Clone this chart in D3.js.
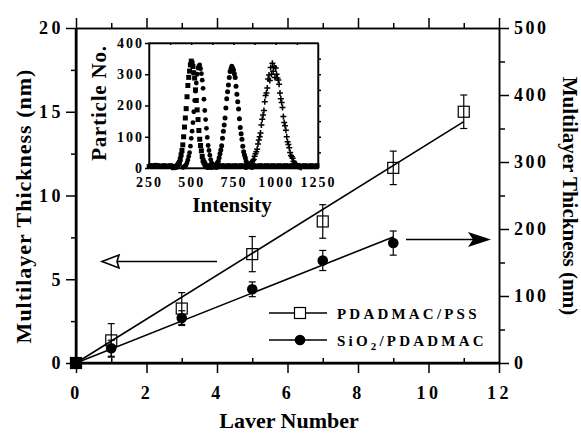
<!DOCTYPE html>
<head>
    <meta charset="utf-8" />
    <title>Multilayer Thickness</title>
</head>

<style>
    body {
        margin: 0;
        background: #fff;
    }

    svg text {
        font-family: "Liberation Serif", "Times New Roman", serif !important;
        font-weight: bold;
        fill: #000;
    }

    .axis path,
    .axis line {
        fill: none;
        stroke: #000;
        stroke-width: 1.5px;
    }
</style>

<body>
    <svg id="chart" width="581" height="434"></svg>

    <script src="https://d3js.org/d3.v7.min.js"></script>

    <script>
        // main plot data (layer number, thickness)
        var layers = [0, 1, 3, 5, 7, 9, 11];
        var pssThick = [0, 1.35, 3.25, 6.5, 8.45, 11.65, 15.0];   // nm, left axis
        var pssErr = [0, 1.0, 0.95, 1.05, 1.0, 1.0, 1.0];
        var sioLayers = [0, 1, 3, 5, 7, 9];
        var sioThick = [0, 22, 67, 110, 153, 179];                // nm, right axis
        var sioErr = [0, 12, 11, 11, 15, 18];
        var pssSlope = 1.31;   // linear fit, nm per layer
        var sioSlope = 20.9;

        var xTicks = [0, 2, 4, 6, 8, 10, 12];
        var leftTicks = [0, 5, 10, 15, 20];
        var rightTicks = [0, 100, 200, 300, 400, 500];

        // inset: particle counts vs intensity, four distributions
        var peak1 = [[395, 1], [400, 2], [405, 3], [410, 4], [415, 6], [420, 9], [425, 13], [430, 18], [435, 28], [440, 42], [445, 56], [450, 74], [455, 100], [460, 131], [465, 160], [470, 190], [475, 228], [480, 264], [485, 290], [490, 310], [495, 330], [500, 342], [505, 336], [510, 325], [515, 305], [520, 288], [525, 250], [530, 216], [535, 186], [540, 155], [545, 120], [550, 92], [555, 72], [560, 55], [565, 37], [570, 24], [575, 18], [580, 13], [585, 8], [590, 5], [600, 2]];
        var peak2 = [[450, 2], [455, 3], [460, 5], [465, 7], [470, 10], [475, 17], [480, 26], [485, 37], [490, 49], [495, 70], [500, 95], [505, 118], [510, 145], [515, 180], [520, 216], [525, 246], [530, 272], [535, 300], [540, 320], [545, 326], [550, 330], [555, 318], [560, 302], [565, 281], [570, 255], [575, 220], [580, 184], [585, 155], [590, 127], [595, 98], [600, 72], [605, 56], [610, 41], [615, 27], [620, 17], [625, 12], [630, 9], [635, 5], [640, 3], [650, 1]];
        var peak3 = [[620, 2], [630, 3], [635, 5], [640, 7], [645, 10], [650, 13], [655, 17], [660, 22], [665, 33], [670, 46], [675, 58], [680, 71], [685, 95], [690, 118], [695, 138], [700, 160], [705, 192], [710, 222], [715, 244], [720, 266], [725, 290], [730, 309], [735, 318], [740, 326], [745, 320], [750, 314], [755, 302], [760, 290], [765, 262], [770, 236], [775, 212], [780, 189], [785, 158], [790, 130], [795, 110], [800, 92], [805, 70], [810, 52], [815, 42], [820, 33], [825, 22], [830, 14], [835, 11], [840, 9], [845, 6], [850, 4], [860, 2]];
        var peak4 = [[820, 3], [825, 4], [830, 5], [835, 6], [840, 8], [845, 10], [850, 12], [855, 16], [860, 20], [865, 24], [870, 27], [875, 38], [880, 46], [885, 52], [890, 60], [895, 77], [900, 90], [905, 100], [910, 112], [915, 138], [920, 156], [925, 170], [930, 184], [935, 212], [940, 232], [945, 240], [950, 256], [955, 285], [960, 298], [965, 280], [970, 322], [975, 300], [980, 335], [985, 310], [990, 325], [995, 290], [1000, 320], [1005, 300], [1010, 288], [1015, 282], [1020, 268], [1025, 240], [1030, 222], [1035, 210], [1040, 194], [1045, 165], [1050, 146], [1055, 135], [1060, 121], [1065, 100], [1070, 84], [1075, 75], [1080, 65], [1085, 50], [1090, 40], [1095, 36], [1100, 31], [1105, 22], [1110, 16], [1115, 14], [1120, 12], [1125, 8], [1130, 6], [1140, 4], [1150, 2]];
        var baseline = [[250, 5], [258, 8], [265, 4], [272, 7], [280, 6], [288, 9], [295, 5], [302, 8], [310, 6], [318, 4], [325, 7], [332, 5], [340, 8], [348, 6], [355, 4], [362, 7], [370, 5], [378, 8], [385, 6], [392, 4], [600, 6], [608, 8], [615, 5], [622, 7], [630, 4], [638, 6], [645, 8], [652, 5], [660, 7], [668, 4], [675, 6], [682, 8], [690, 5], [698, 7], [705, 6], [712, 4], [720, 8], [728, 5], [735, 7], [742, 6], [750, 4], [758, 8], [765, 5], [772, 7], [780, 6], [788, 4], [795, 8], [802, 5], [810, 7], [818, 6], [825, 4], [832, 8], [840, 5], [848, 7], [855, 6], [862, 4], [870, 8], [878, 5], [885, 7], [892, 6], [900, 4], [908, 8], [915, 5], [922, 7], [930, 6], [938, 4], [945, 8], [952, 5], [960, 7], [968, 6], [975, 4], [982, 8], [990, 5], [998, 7], [1005, 6], [1012, 4], [1020, 8], [1028, 5], [1035, 7], [1042, 6], [1050, 4], [1058, 8], [1065, 5], [1072, 7], [1080, 6], [1088, 4], [1095, 8], [1102, 5], [1110, 7], [1118, 6], [1125, 4], [1132, 8], [1140, 5], [1148, 7], [1155, 6], [1162, 4], [1170, 8], [1178, 5], [1185, 7], [1192, 6], [1200, 4], [1208, 8], [1215, 5], [1222, 7], [1230, 6], [1238, 4], [1245, 8]];
        var insetXTicks = [250, 500, 750, 1000, 1250];
        var insetYTicks = [0, 100, 200, 300, 400];

        var svg = d3.select("#chart");

        var x = d3.scaleLinear().domain([0, 12]).range([76, 499]);
        var y = d3.scaleLinear().domain([0, 20]).range([363, 28]);
        var yR = d3.scaleLinear().domain([0, 500]).range([363, 28]);

        function styleTicks(sel, size, spacing) {
            sel.attr("font-family", null);
            sel.selectAll("text")
                .style("font-family", "'Liberation Serif', serif")
                .style("font-weight", "bold")
                .attr("font-size", size)
                .attr("letter-spacing", spacing);
        }

        // axes
        svg.append("g").attr("class", "axis")
            .attr("transform", "translate(0,363)")
            .call(d3.axisBottom(x).tickValues(xTicks).tickSize(10).tickPadding(13).tickSizeOuter(0))
            .call(styleTicks, "18px", "3.5px");
        svg.append("g").attr("class", "axis")
            .attr("transform", "translate(0,363)")
            .call(d3.axisBottom(x).tickValues([1, 3, 5, 7, 9, 11]).tickSize(-5).tickFormat("").tickSizeOuter(0));

        svg.append("g").attr("class", "axis")
            .attr("transform", "translate(0,28)")
            .call(d3.axisTop(x).tickValues(xTicks).tickSize(10).tickFormat("").tickSizeOuter(0));
        svg.append("g").attr("class", "axis")
            .attr("transform", "translate(0,28)")
            .call(d3.axisTop(x).tickValues([1, 3, 5, 7, 9, 11]).tickSize(5).tickFormat("").tickSizeOuter(0));

        svg.append("g").attr("class", "axis")
            .attr("transform", "translate(76,0)")
            .call(d3.axisLeft(y).tickValues(leftTicks).tickSize(10).tickPadding(2).tickSizeOuter(0))
            .call(styleTicks, "18px", "3.5px");
        svg.append("g").attr("class", "axis")
            .attr("transform", "translate(76,0)")
            .call(d3.axisLeft(y).tickValues([2.5, 7.5, 12.5, 17.5]).tickSize(5).tickFormat("").tickSizeOuter(0));

        svg.append("g").attr("class", "axis")
            .attr("transform", "translate(499,0)")
            .call(d3.axisRight(yR).tickValues(rightTicks).tickSize(10).tickPadding(5).tickSizeOuter(0))
            .call(styleTicks, "18px", "2.5px");
        svg.append("g").attr("class", "axis")
            .attr("transform", "translate(499,0)")
            .call(d3.axisRight(yR).tickValues([50, 150, 250, 350, 450]).tickSize(6).tickFormat("").tickSizeOuter(0));

        // thicker left and bottom spines
        svg.append("line").attr("x1", 76).attr("x2", 76).attr("y1", 28).attr("y2", 364)
            .attr("stroke", "#000").attr("stroke-width", 2.5);
        svg.append("line").attr("x1", 75).attr("x2", 499).attr("y1", 363).attr("y2", 363)
            .attr("stroke", "#000").attr("stroke-width", 2.5);

        // axis titles
        svg.append("text").attr("x", 289).attr("y", 428).attr("text-anchor", "middle")
            .attr("font-size", "22px").text("Laver Number");
        svg.append("text").attr("transform", "translate(31,206) rotate(-90)")
            .attr("text-anchor", "middle").attr("font-size", "22px").attr("letter-spacing", "1px")
            .text("Multilayer Thickness (nm)");
        svg.append("text").attr("transform", "translate(563,196) rotate(90)")
            .attr("text-anchor", "middle").attr("font-size", "21px")
            .text("Multilayer Thickness (nm)");

        // fit lines
        var line = d3.line().x(function(d) { return d[0]; }).y(function(d) { return d[1]; });
        svg.append("path")
            .attr("d", line([[x(0), y(0)], [x(11), y(pssSlope * 11)]]))
            .attr("stroke", "#000").attr("stroke-width", 1.6).attr("fill", "none");
        svg.append("path")
            .attr("d", line([[x(0), yR(0)], [x(9), yR(sioSlope * 9)]]))
            .attr("stroke", "#000").attr("stroke-width", 1.6).attr("fill", "none");

        // error bars
        function errorBars(xs, vals, errs, scale) {
            var g = svg.append("g").attr("stroke", "#000").attr("stroke-width", 1.2);
            xs.forEach(function(l, i) {
                if (!errs[i]) return;
                var cx = x(l);
                g.append("line").attr("x1", cx).attr("x2", cx)
                    .attr("y1", scale(vals[i] - errs[i])).attr("y2", scale(vals[i] + errs[i]));
                g.append("line").attr("x1", cx - 3.5).attr("x2", cx + 3.5)
                    .attr("y1", scale(vals[i] - errs[i])).attr("y2", scale(vals[i] - errs[i]));
                g.append("line").attr("x1", cx - 3.5).attr("x2", cx + 3.5)
                    .attr("y1", scale(vals[i] + errs[i])).attr("y2", scale(vals[i] + errs[i]));
            });
        }
        errorBars(layers, pssThick, pssErr, y);
        errorBars(sioLayers, sioThick, sioErr, yR);

        // markers
        svg.selectAll(".sq").data(layers).enter().append("rect")
            .attr("x", function(d) { return x(d) - 5.5; })
            .attr("y", function(d, i) { return y(pssThick[i]) - 5.5; })
            .attr("width", 11).attr("height", 11)
            .attr("fill", function(d) { return d === 0 ? "#000" : "none"; })
            .attr("stroke", "#000").attr("stroke-width", 1.2);
        svg.selectAll(".dot").data(sioLayers).enter().append("circle")
            .attr("cx", function(d) { return x(d); })
            .attr("cy", function(d, i) { return yR(sioThick[i]); })
            .attr("r", 5.3).attr("fill", "#000");

        // arrows
        svg.append("line").attr("x1", 117).attr("x2", x(4)).attr("y1", 261.5).attr("y2", 261.5)
            .attr("stroke", "#000").attr("stroke-width", 1.6);
        svg.append("path").attr("d", "M102,261.5 L119,255 L117,261.5 L119,268 Z")
            .attr("fill", "#fff").attr("stroke", "#000").attr("stroke-width", 1.6);
        svg.append("line").attr("x1", 406).attr("x2", 475).attr("y1", 239.5).attr("y2", 239.5)
            .attr("stroke", "#000").attr("stroke-width", 1.6);
        svg.append("path").attr("d", "M491,239.5 L468,232 L473,239.5 L468,247 Z")
            .attr("fill", "#000");

        // legend
        var legend = svg.append("g");
        legend.append("line").attr("x1", 269).attr("x2", 327).attr("y1", 313).attr("y2", 313)
            .attr("stroke", "#000").attr("stroke-width", 1.4);
        legend.append("rect").attr("x", 294.5).attr("y", 307.5).attr("width", 11).attr("height", 11)
            .attr("fill", "#fff").attr("stroke", "#000").attr("stroke-width", 1.2);
        legend.append("line").attr("x1", 269).attr("x2", 327).attr("y1", 340).attr("y2", 340)
            .attr("stroke", "#000").attr("stroke-width", 1.4);
        legend.append("circle").attr("cx", 300).attr("cy", 340).attr("r", 5.3).attr("fill", "#000");
        legend.append("text").attr("x", 337).attr("y", 318.5).attr("font-size", "15px")
            .attr("letter-spacing", "3.2px").text("PDADMAC/PSS");
        var t2 = legend.append("text").attr("x", 337).attr("y", 345.5).attr("font-size", "15px")
            .attr("letter-spacing", "3.2px");
        t2.append("tspan").text("SiO");
        t2.append("tspan").attr("font-size", "11px").attr("dy", 4).text("2");
        t2.append("tspan").attr("dy", -4).text("/PDADMAC");

        // ---- inset ----
        var ix = d3.scaleLinear().domain([250, 1250]).range([149, 318]);
        var iy = d3.scaleLinear().domain([0, 400]).range([168, 43]);

        svg.append("rect").attr("x", 149).attr("y", 43).attr("width", 169).attr("height", 125)
            .attr("fill", "#fff").attr("stroke", "#000").attr("stroke-width", 1.2);

        svg.append("g").attr("class", "axis")
            .attr("transform", "translate(0,168)")
            .call(d3.axisBottom(ix).tickValues(insetXTicks).tickFormat(d3.format("d"))
                .tickSize(0).tickPadding(9).tickSizeOuter(0))
            .call(styleTicks, "14px", "2px");
        svg.append("g").attr("class", "axis")
            .attr("transform", "translate(149,0)")
            .call(d3.axisLeft(iy).tickValues(insetYTicks).tickSize(4).tickPadding(1).tickSizeOuter(0))
            .call(styleTicks, "14px", "2px");
        svg.append("g").attr("class", "axis")
            .attr("transform", "translate(318,0)")
            .call(d3.axisRight(iy).tickValues([50, 100, 150, 200, 250, 300, 350]).tickSize(3).tickFormat("").tickSizeOuter(0));
        svg.append("g").attr("class", "axis")
            .attr("transform", "translate(0,43)")
            .call(d3.axisBottom(ix).tickValues([375, 500, 625, 750, 875, 1000, 1125]).tickSize(2).tickFormat("").tickSizeOuter(0));

        svg.append("text").attr("transform", "translate(106,103) rotate(-90)")
            .attr("text-anchor", "middle").attr("font-size", "21px").attr("letter-spacing", "0.8px")
            .text("Particle No.");
        svg.append("text").attr("x", 232).attr("y", 212).attr("text-anchor", "middle")
            .attr("font-size", "21px").text("Intensity");

        var ig = svg.append("g");
        ig.selectAll(".b").data(baseline).enter().append("rect")
            .attr("x", function(d) { return ix(d[0]) - 2.3; })
            .attr("y", function(d) { return iy(d[1]) - 2.3; })
            .attr("width", 4.6).attr("height", 4.6).attr("fill", "#000");
        ig.selectAll(".p1").data(peak1).enter().append("rect")
            .attr("x", function(d) { return ix(d[0]) - 2.5; })
            .attr("y", function(d) { return iy(d[1]) - 2.5; })
            .attr("width", 5).attr("height", 5).attr("fill", "#000");
        ig.selectAll(".p2").data(peak2).enter().append("circle")
            .attr("cx", function(d) { return ix(d[0]); })
            .attr("cy", function(d) { return iy(d[1]); })
            .attr("r", 2.4).attr("fill", "#000");
        ig.selectAll(".p3").data(peak3).enter().append("circle")
            .attr("cx", function(d) { return ix(d[0]); })
            .attr("cy", function(d) { return iy(d[1]); })
            .attr("r", 2.5).attr("fill", "#000");
        ig.selectAll(".p4").data(peak4).enter().append("path")
            .attr("d", function(d) {
                var px = ix(d[0]), py = iy(d[1]);
                return "M" + (px - 3) + "," + py + "h6M" + px + "," + (py - 3) + "v6";
            })
            .attr("stroke", "#000").attr("stroke-width", 1.5);
    </script>
</body>
